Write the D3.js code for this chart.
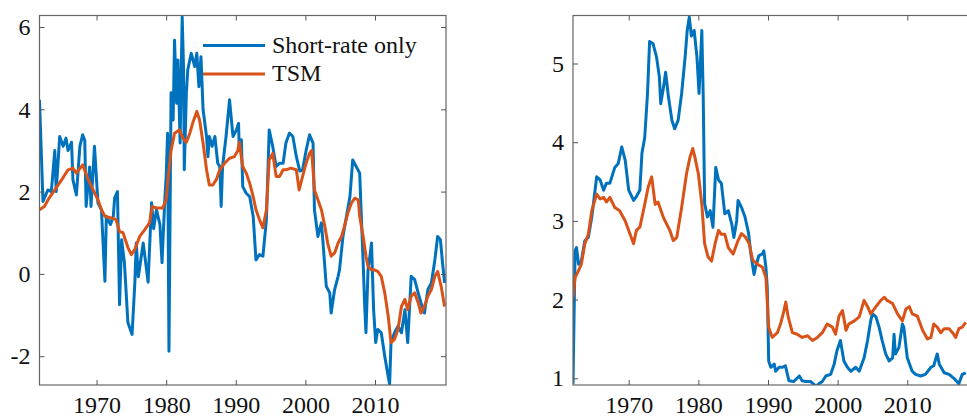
<!DOCTYPE html>
<meta charset="utf-8">
<head>
    <script type="text/javascript" src="https://cdn.jsdelivr.net/npm/d3@7"></script>
    <style>
        body { margin: 0; background: white; }
        svg { display: block; }
    </style>
    <title></title>
</head>
<body>
<script>

    var width = 967
    var height = 418

    // x ticks shared by both panels
    var yearTicks = [1970, 1980, 1990, 2000, 2010]
    var leftTicks = [-2, 0, 2, 4, 6]
    var rightTicks = [1, 2, 3, 4, 5]

    var seriesNames = ["Short-rate only", "TSM"]
    var colors = ["#0072BD", "#D95319"]

    // left panel, [year, value]
    var leftShortRate = [[1961.8,4.23],[1962.3,1.76],[1963.0,2.04],[1963.5,2.0],[1964.0,3.0],[1964.2,2.0],[1964.7,3.34],[1965.2,3.1],[1965.6,3.3],[1965.9,3.0],[1966.4,3.2],[1966.6,2.29],[1967.1,1.92],[1967.6,3.1],[1968.0,3.38],[1968.3,3.25],[1968.5,1.64],[1969.0,2.6],[1969.2,1.64],[1969.7,3.1],[1970.2,1.72],[1970.7,1.56],[1971.2,-0.18],[1971.4,1.4],[1972.0,1.2],[1972.4,1.4],[1972.6,1.85],[1973.0,2.0],[1973.3,-0.75],[1973.6,0.83],[1974.0,0.27],[1974.5,-1.18],[1975.1,-1.47],[1975.5,-0.21],[1975.7,0.75],[1976.0,-0.07],[1976.7,0.75],[1977.4,-0.2],[1977.9,1.73],[1978.2,1.1],[1978.6,1.56],[1979.1,1.2],[1979.4,0.27],[1979.8,1.8],[1980.0,2.37],[1980.2,3.42],[1980.4,-1.88],[1980.7,4.4],[1981.0,3.74],[1981.2,5.68],[1981.5,4.15],[1981.7,5.2],[1982.0,3.18],[1982.3,6.25],[1982.5,4.96],[1982.6,2.53],[1982.9,4.39],[1983.1,4.96],[1983.6,5.36],[1984.1,5.04],[1984.4,5.36],[1984.7,4.55],[1985.0,5.28],[1985.3,3.99],[1985.8,3.34],[1986.0,2.85],[1986.2,3.34],[1986.6,3.1],[1987.0,3.34],[1987.4,2.69],[1987.7,2.61],[1987.9,1.64],[1988.1,2.61],[1988.6,3.34],[1989.1,4.23],[1989.6,3.34],[1990.1,3.5],[1990.4,3.66],[1990.5,3.0],[1990.8,3.26],[1991.0,2.12],[1991.5,1.96],[1992.0,1.88],[1992.5,1.4],[1992.9,0.34],[1993.4,0.47],[1993.9,0.43],[1994.4,1.32],[1994.8,3.5],[1995.3,3.1],[1995.8,2.61],[1996.3,2.69],[1996.8,2.69],[1997.2,3.18],[1997.7,3.42],[1998.2,3.34],[1998.7,2.85],[1999.2,2.5],[1999.6,2.53],[2000.1,3.0],[2000.6,3.38],[2001.1,3.18],[2001.3,1.56],[2001.8,0.91],[2002.3,1.24],[2002.5,0.83],[2003.0,-0.3],[2003.5,-0.46],[2003.7,-0.95],[2004.2,-0.38],[2004.7,-0.06],[2004.9,0.1],[2005.4,0.91],[2005.9,1.4],[2006.4,1.88],[2006.8,2.77],[2007.3,2.61],[2007.8,2.45],[2008.0,1.56],[2008.3,0.27],[2008.5,-0.7],[2008.7,-1.43],[2009.0,0.1],[2009.2,0.34],[2009.5,0.75],[2009.8,-0.87],[2010.1,-1.67],[2010.4,-1.35],[2010.9,-1.43],[2011.4,-2.0],[2011.9,-2.5],[2012.1,-2.68],[2012.3,-1.67],[2012.8,-1.43],[2013.3,-1.27],[2013.8,-1.43],[2014.3,-0.87],[2014.7,-1.67],[2015.2,-0.06],[2015.7,-0.14],[2016.2,-0.46],[2016.6,-0.7],[2017.1,-0.95],[2017.6,-0.38],[2018.1,-0.22],[2018.6,0.34],[2019.0,0.91],[2019.4,0.83],[2019.7,0.27],[2020.0,-0.22]]

    var leftTSM = [[1961.8,1.56],[1962.5,1.64],[1963.2,1.85],[1964.0,2.04],[1965.0,2.29],[1965.9,2.53],[1966.6,2.57],[1967.1,2.45],[1968.0,2.65],[1968.8,2.29],[1969.5,2.04],[1970.2,1.8],[1970.7,1.56],[1971.2,1.4],[1972.1,1.36],[1972.8,1.32],[1973.3,1.03],[1973.8,1.0],[1974.5,0.64],[1975.0,0.47],[1975.5,0.6],[1976.2,0.91],[1976.9,1.07],[1977.6,1.24],[1978.0,1.64],[1978.6,1.6],[1979.5,1.6],[1980.0,1.8],[1980.3,2.37],[1980.7,3.0],[1981.2,3.42],[1981.9,3.5],[1982.4,3.3],[1982.9,3.2],[1983.4,3.42],[1983.8,3.66],[1984.4,3.95],[1984.8,3.74],[1985.3,3.18],[1985.8,2.53],[1986.2,2.16],[1986.7,2.16],[1987.2,2.29],[1987.7,2.53],[1988.4,2.69],[1989.1,2.81],[1989.8,2.85],[1990.3,3.0],[1990.5,3.2],[1991.0,2.61],[1991.5,2.45],[1992.0,2.2],[1992.5,1.88],[1992.9,1.56],[1993.4,1.32],[1993.9,1.12],[1994.4,1.56],[1994.8,2.77],[1995.3,2.93],[1995.8,2.37],[1996.3,2.37],[1996.8,2.53],[1997.2,2.53],[1997.9,2.57],[1998.7,2.53],[1999.1,2.04],[1999.6,2.37],[2000.1,2.69],[2000.6,2.93],[2000.9,3.0],[2001.3,2.04],[2001.8,1.8],[2002.3,1.56],[2002.8,1.15],[2003.2,0.75],[2003.7,0.43],[2004.2,0.51],[2004.7,0.75],[2005.2,0.91],[2005.6,1.15],[2006.1,1.48],[2006.6,1.72],[2007.1,1.84],[2007.6,1.8],[2007.8,1.4],[2008.3,0.91],[2008.7,0.43],[2009.0,0.18],[2009.5,0.1],[2009.9,0.1],[2010.4,0.06],[2010.9,-0.06],[2011.4,-0.46],[2011.9,-1.03],[2012.3,-1.67],[2012.8,-1.59],[2013.3,-1.35],[2013.8,-0.79],[2014.3,-0.62],[2014.7,-0.87],[2015.2,-0.54],[2015.7,-0.46],[2016.2,-0.7],[2016.6,-0.95],[2017.1,-0.79],[2017.6,-0.54],[2018.1,-0.38],[2018.6,-0.06],[2019.0,0.06],[2019.5,-0.3],[2020.0,-0.79]]

    // right panel, [year, value]
    var rightShortRate = [[1962.0,0.93],[1962.3,2.62],[1962.5,2.66],[1962.8,2.45],[1963.2,2.49],[1963.7,2.75],[1964.2,2.79],[1964.7,3.05],[1965.4,3.56],[1965.9,3.52],[1966.4,3.39],[1966.8,3.48],[1967.3,3.48],[1968.0,3.68],[1968.5,3.73],[1969.0,3.94],[1969.5,3.77],[1970.0,3.39],[1970.7,3.26],[1971.1,3.31],[1971.6,3.39],[1971.9,3.86],[1972.3,4.06],[1972.7,4.62],[1973.0,5.28],[1973.5,5.25],[1974.0,5.08],[1974.4,4.83],[1974.6,4.49],[1975.0,4.7],[1975.3,4.89],[1975.7,4.58],[1976.2,4.28],[1976.6,4.17],[1977.1,4.28],[1977.6,4.62],[1978.1,5.08],[1978.4,5.42],[1978.7,5.59],[1979.0,5.35],[1979.4,5.42],[1979.8,5.08],[1980.1,4.62],[1980.5,5.42],[1980.7,4.58],[1980.9,3.22],[1981.3,3.05],[1981.7,3.13],[1982.1,2.92],[1982.5,3.68],[1982.9,3.52],[1983.3,3.48],[1983.8,3.09],[1984.3,3.13],[1984.8,2.96],[1985.1,2.79],[1985.5,3.0],[1985.7,3.26],[1986.2,3.17],[1986.7,3.05],[1987.2,2.85],[1987.6,2.54],[1988.0,2.32],[1988.2,2.41],[1988.7,2.56],[1989.2,2.58],[1989.4,2.62],[1989.7,2.41],[1989.9,2.15],[1990.1,1.22],[1990.4,1.14],[1990.9,1.18],[1991.1,1.09],[1991.6,1.14],[1992.1,1.14],[1992.5,1.16],[1993.0,0.97],[1993.7,0.96],[1994.5,1.03],[1994.9,0.97],[1995.4,0.96],[1996.1,0.96],[1996.9,0.9],[1997.3,0.93],[1997.8,0.96],[1998.3,1.03],[1999.0,1.05],[1999.5,1.18],[1999.9,1.35],[2000.4,1.48],[2000.9,1.22],[2001.4,1.14],[2001.9,1.09],[2002.6,1.14],[2003.1,1.09],[2003.8,1.26],[2004.3,1.48],[2004.75,1.73],[2005.0,1.82],[2005.5,1.78],[2005.95,1.65],[2006.4,1.48],[2006.9,1.31],[2007.4,1.22],[2007.9,1.26],[2008.1,1.56],[2008.3,1.31],[2008.8,1.39],[2009.3,1.69],[2009.5,1.65],[2010.0,1.26],[2010.7,1.09],[2011.2,1.05],[2011.9,1.03],[2012.6,1.05],[2013.4,1.14],[2013.8,1.16],[2014.3,1.31],[2014.6,1.18],[2015.3,1.07],[2016.0,1.05],[2016.7,1.0],[2017.4,0.93],[2017.9,1.05],[2018.4,1.07]]

    var rightTSM = [[1962.0,2.03],[1962.3,2.28],[1962.8,2.37],[1963.2,2.45],[1963.7,2.71],[1964.2,2.83],[1964.7,3.13],[1965.4,3.34],[1965.9,3.28],[1966.4,3.3],[1966.8,3.24],[1967.3,3.3],[1968.0,3.17],[1968.7,3.13],[1969.5,3.0],[1970.2,2.83],[1970.7,2.71],[1971.1,2.88],[1971.6,2.92],[1972.3,3.21],[1972.8,3.43],[1973.3,3.56],[1973.8,3.21],[1974.2,3.24],[1975.0,3.04],[1975.9,2.88],[1976.4,2.75],[1976.9,2.79],[1977.6,3.17],[1978.3,3.6],[1978.8,3.81],[1979.2,3.92],[1979.5,3.81],[1980.0,3.6],[1980.5,3.21],[1980.9,2.71],[1981.4,2.54],[1981.9,2.49],[1982.4,2.71],[1982.9,2.88],[1983.3,2.83],[1983.8,2.83],[1984.3,2.66],[1985.0,2.58],[1985.7,2.75],[1986.2,2.84],[1986.8,2.79],[1987.3,2.71],[1987.8,2.5],[1988.5,2.45],[1989.2,2.41],[1989.7,2.28],[1990.1,1.65],[1990.6,1.52],[1991.35,1.58],[1991.8,1.69],[1992.3,1.86],[1992.55,1.97],[1992.9,1.78],[1993.5,1.58],[1994.2,1.56],[1994.9,1.52],[1995.7,1.54],[1996.4,1.48],[1997.1,1.52],[1997.8,1.58],[1998.5,1.69],[1999.25,1.65],[1999.7,1.56],[2000.2,1.79],[2000.7,1.86],[2001.2,1.61],[2001.6,1.69],[2002.4,1.73],[2003.1,1.78],[2003.8,1.99],[2004.3,1.91],[2004.75,1.82],[2005.5,1.91],[2006.2,1.99],[2006.7,2.03],[2007.1,1.99],[2007.9,1.95],[2008.6,1.82],[2009.3,1.73],[2009.8,1.88],[2010.3,1.91],[2010.7,1.82],[2011.45,1.79],[2012.2,1.61],[2012.9,1.5],[2013.4,1.52],[2013.8,1.69],[2014.3,1.65],[2014.8,1.58],[2015.3,1.63],[2016.0,1.63],[2016.5,1.58],[2016.95,1.52],[2017.4,1.63],[2017.9,1.65],[2018.4,1.71]]

    var svg = d3.select("body").append("svg")
        .attr("width", width)
        .attr("height", height)

    var plotTop = 15.5, plotBottom = 385
    var serif = "'Liberation Serif', 'Times New Roman', serif"

    function styleAxis(a) {
        a.select(".domain").remove()
        a.selectAll(".tick line").attr("stroke", "#555")
        a.selectAll(".tick text")
            .attr("font-family", serif)
            .attr("font-size", 24)
            .attr("fill", "#111")
    }

    function drawPanel(id, x0, x1, xDomain, yDomain, yTicks, series) {
        var x = d3.scaleLinear().domain(xDomain).range([x0, x1])
        var y = d3.scaleLinear().domain(yDomain).range([plotBottom, plotTop])

        var g = svg.append("g")

        g.append("clipPath").attr("id", id)
            .append("rect")
            .attr("x", x0).attr("y", plotTop)
            .attr("width", x1 - x0).attr("height", plotBottom - plotTop)

        var line = d3.line()
            .x(d => x(d[0]))
            .y(d => y(d[1]))

        series.forEach(function (s, i) {
            g.append("path")
                .datum(s)
                .attr("clip-path", "url(#" + id + ")")
                .attr("d", line)
                .attr("fill", "none")
                .attr("stroke", colors[i])
                .attr("stroke-width", 3)
                .attr("stroke-linejoin", "round")
        })

        // box
        g.append("rect")
            .attr("x", x0).attr("y", plotTop)
            .attr("width", x1 - x0).attr("height", plotBottom - plotTop)
            .attr("fill", "none")
            .attr("stroke", "#666")
            .attr("stroke-width", 1.2)

        g.append("g")
            .attr("transform", "translate(0," + plotBottom + ")")
            .call(d3.axisBottom(x).tickValues(yearTicks).tickSize(-5).tickSizeOuter(0).tickPadding(11).tickFormat(d => String(d)))
            .call(styleAxis)

        g.append("g")
            .attr("transform", "translate(0," + plotTop + ")")
            .call(d3.axisTop(x).tickValues(yearTicks).tickSize(-5).tickSizeOuter(0).tickFormat(""))
            .call(styleAxis)

        g.append("g")
            .attr("transform", "translate(" + x0 + ",0)")
            .call(d3.axisLeft(y).tickValues(yTicks).tickSize(-5).tickSizeOuter(0).tickPadding(9).tickFormat(d => String(d)))
            .call(styleAxis)

        g.append("g")
            .attr("transform", "translate(" + x1 + ",0)")
            .call(d3.axisRight(y).tickValues(yTicks).tickSize(-5).tickSizeOuter(0).tickFormat(""))
            .call(styleAxis)

        return g
    }

    var left = drawPanel("clipL", 39.5, 446, [1961.8, 2020.2], [-2.7, 6.28], leftTicks, [leftShortRate, leftTSM])
    drawPanel("clipR", 573, 979, [1962.0, 2020.3], [0.915, 5.61], rightTicks, [rightShortRate, rightTSM])

    // legend
    var legend = left.append("g")
    seriesNames.forEach(function (name, i) {
        var ly = 45.5 + i * 28.5
        legend.append("line")
            .attr("x1", 203).attr("x2", 265)
            .attr("y1", ly).attr("y2", ly)
            .attr("stroke", colors[i])
            .attr("stroke-width", 3)
        legend.append("text")
            .attr("x", 272)
            .attr("y", ly + 7)
            .attr("font-family", serif)
            .attr("font-size", 24)
            .attr("fill", "#111")
            .text(name)
    })

</script>
</body>
</html>
